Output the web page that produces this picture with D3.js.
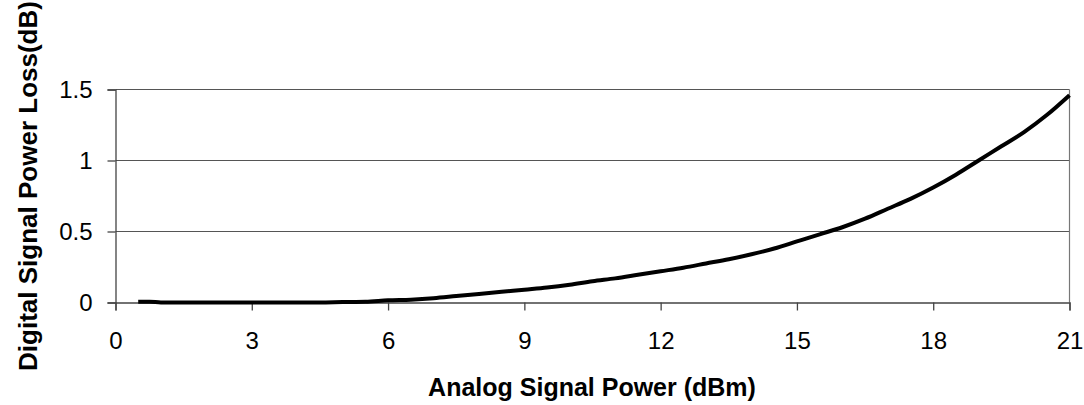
<!DOCTYPE html>
<html><head><meta charset="utf-8">
<script src="https://cdn.jsdelivr.net/npm/d3@7"></script>
<style>body{margin:0;background:#fff}svg{display:block}text{font-family:"Liberation Sans",Arial,sans-serif}</style>
</head><body>
<svg id="c" width="1084" height="405"></svg>
<script>
const xValues = [0.5,0.75,1.0,1.5,2.0,2.5,3.0,3.5,4.0,4.5,5.0,5.5,6.0,6.5,7.0,7.5,8.0,8.5,9.0,9.5,10.0,10.5,11.0,11.5,12.0,12.5,13.0,13.5,14.0,14.5,15.0,15.5,16.0,16.5,17.0,17.5,18.0,18.5,19.0,19.5,20.0,20.5,21.0];
const lossValues = [0.005,0.006,0,0,0,0,0,0,0,0,0.003,0.005,0.015,0.02,0.03,0.045,0.06,0.075,0.09,0.105,0.125,0.15,0.17,0.195,0.22,0.245,0.275,0.305,0.34,0.38,0.43,0.48,0.53,0.59,0.66,0.73,0.81,0.9,1.0,1.1,1.2,1.32,1.46];
const xTicks = [0,3,6,9,12,15,18,21];
const yTicks = [0,0.5,1,1.5];
const xTitle = "Analog Signal Power (dBm)";
const yTitle = "Digital Signal Power Loss(dB)";

const svg = d3.select("#c");
const L=115.5, R=1069.5, T=89.5, B=302.5;
const x = d3.scaleLinear().domain([0,21]).range([L,R]);
const y = d3.scaleLinear().domain([0,1.5]).range([B,T]);

svg.append("g").selectAll("line").data(yTicks.filter(d=>d>0)).join("line")
  .attr("x1",L).attr("x2",R).attr("y1",d=>y(d)).attr("y2",d=>y(d))
  .attr("stroke","#555").attr("stroke-width",1.2);
svg.append("line").attr("x1",R).attr("x2",R).attr("y1",T).attr("y2",B).attr("stroke","#777").attr("stroke-width",1.2);

const xa = svg.append("g").attr("transform",`translate(0,${B})`)
  .call(d3.axisBottom(x).tickValues(xTicks).tickSize(8).tickPadding(21).tickFormat(d3.format("d")));
const ya = svg.append("g").attr("transform",`translate(${L},0)`)
  .call(d3.axisLeft(y).tickValues(yTicks).tickSize(8).tickPadding(15).tickFormat(d=>d===0?"0":(d===1?"1":d3.format(".1f")(d))));
[xa,ya].forEach(a=>{
  a.select(".domain").attr("stroke","#444").attr("stroke-width",1.3);
  a.selectAll(".tick line").attr("stroke","#444").attr("stroke-width",1.3);
  a.selectAll("text").attr("font-size",24).attr("fill","#000").attr("font-family","Liberation Sans, Arial, sans-serif");
});

const pts = xValues.map((v,i)=>[v,lossValues[i]]);
svg.append("path").datum(pts)
  .attr("d",d3.line().x(d=>x(d[0])).y(d=>y(d[1])).curve(d3.curveMonotoneX))
  .attr("fill","none").attr("stroke","#000").attr("stroke-width",4).attr("stroke-linejoin","round");

svg.append("text").attr("x",592).attr("y",396).attr("text-anchor","middle")
  .attr("font-weight","bold").attr("font-size",25).text(xTitle);
svg.append("text").attr("transform","translate(37,186) rotate(-90)").attr("text-anchor","middle")
  .attr("font-weight","bold").attr("font-size",26).text(yTitle);
</script>
</body></html>
